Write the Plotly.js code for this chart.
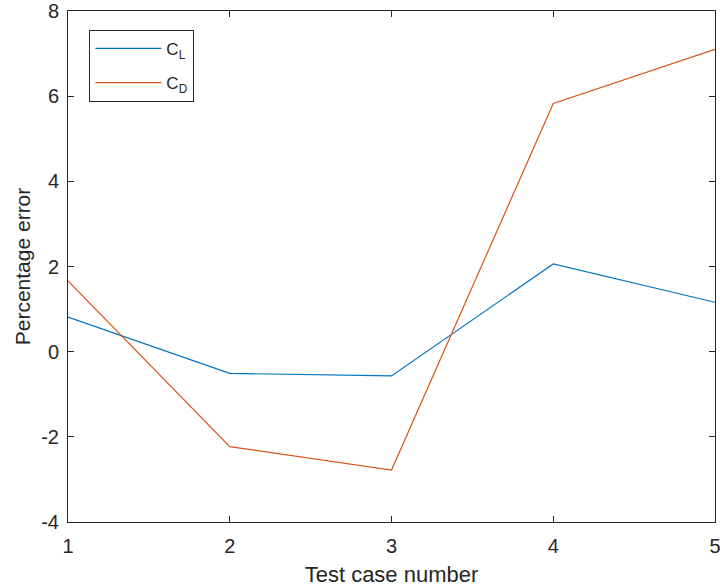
<!DOCTYPE html>
<html>
<head>
<meta charset="utf-8">
<script src="https://cdn.plot.ly/plotly-3.0.1.min.js"></script>
<style>html,body{margin:0;padding:0;background:#fff;}#chart{width:720px;height:587px;}</style>
</head>
<body>
<div id="chart"></div>
<script>
const testCases = [1, 2, 3, 4, 5];
const cl = [0.81, -0.51, -0.57, 2.06, 1.16];
const cd = [1.66, -2.23, -2.78, 5.83, 7.10];
const xTicks = [1, 2, 3, 4, 5];
const yTicks = [-4, -2, 0, 2, 4, 6, 8];

const axisColor = '#262626';
const fontFam = 'Liberation Sans, Arial, Helvetica, sans-serif';

const traces = [
  {x: testCases, y: cl, mode: 'lines', name: 'C<sub>L</sub>', legendgroup: 'a', line: {color: '#0072BD', width: 1.2}},
  {x: testCases, y: cd, mode: 'lines', name: 'C<sub>D</sub>', legendgroup: 'b', line: {color: '#D95319', width: 1.2}}
];

const layout = {
  width: 720, height: 587,
  margin: {l: 68, r: 5, t: 11, b: 65},
  paper_bgcolor: '#fff', plot_bgcolor: '#fff',
  font: {family: fontFam, color: axisColor, size: 17},
  showlegend: true,
  legend: {
    x: 0.033, y: 0.963, xanchor: 'left', yanchor: 'top',
    bordercolor: axisColor, borderwidth: 1, bgcolor: '#fff',
    font: {size: 17, color: axisColor, family: fontFam},
    traceorder: 'grouped', tracegroupgap: 9, itemwidth: 66
  },
  xaxis: {
    range: [1, 5], tickvals: xTicks, ticktext: xTicks.map(String),
    ticks: 'inside', ticklen: 6, tickcolor: axisColor, tickwidth: 1,
    showline: true, linecolor: axisColor, linewidth: 1, mirror: 'allticks',
    showgrid: false, zeroline: false, ticklabelstandoff: 6,
    ticklabeloverflow: 'allow',
    tickfont: {size: 20, color: axisColor},
    title: {text: 'Test case number', font: {size: 22, color: axisColor}, standoff: 10}
  },
  yaxis: {
    range: [-4, 8], tickvals: yTicks, ticktext: yTicks.map(String),
    ticks: 'inside', ticklen: 6, tickcolor: axisColor, tickwidth: 1,
    showline: true, linecolor: axisColor, linewidth: 1, mirror: 'allticks',
    showgrid: false, zeroline: false, ticklabelstandoff: 4,
    ticklabeloverflow: 'allow',
    tickfont: {size: 20, color: axisColor},
    title: {text: 'Percentage error', font: {size: 21, color: axisColor}, standoff: 4}
  }
};

Plotly.newPlot('chart', traces, layout, {displayModeBar: false, staticPlot: true});
</script>
</body>
</html>
